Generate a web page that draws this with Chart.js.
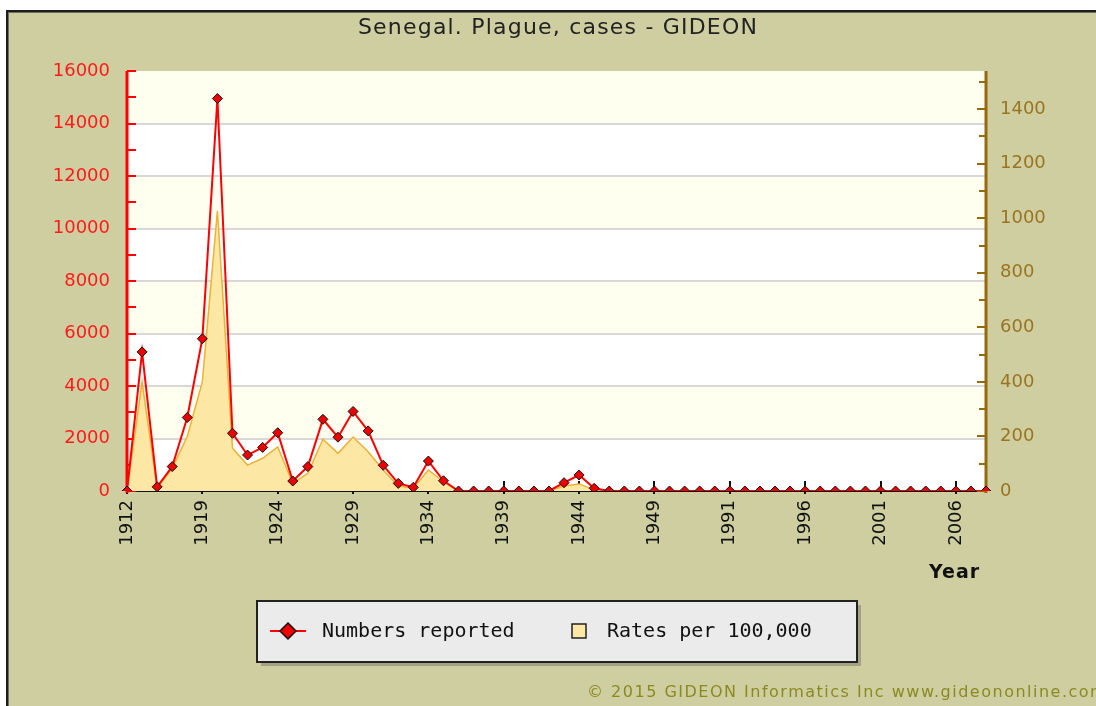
<!DOCTYPE html>
<html>
<head>
<meta charset="utf-8">
<title>Senegal. Plague, cases - GIDEON</title>
<script src="https://cdn.jsdelivr.net/npm/chart.js@4.4.1/dist/chart.umd.min.js"></script>
<style>
  html, body { margin: 0; padding: 0; background: #fff; overflow: hidden; }
  #wrap { position: relative; width: 1096px; height: 706px; }
  canvas { display: block; }
</style>
</head>
<body>
<div id="wrap"><canvas id="plagueChart" width="1096" height="706"></canvas></div>
<script>
// years shown on the x axis (only every 5th label is printed)
const years = [
  1912, 1914, 1915, 1917, 1918,
  1919, 1920, 1921, 1922, 1923, 1924, 1925, 1926, 1927, 1928,
  1929, 1930, 1931, 1932, 1933, 1934, 1935, 1936, 1937, 1938,
  1939, 1940, 1941, 1942, 1943, 1944, 1945, 1946, 1947, 1948,
  1949, 1950, 1951, 1952, 1953,
  1991, 1992, 1993, 1994, 1995, 1996, 1997, 1998, 1999, 2000,
  2001, 2002, 2003, 2004, 2005, 2006, 2007, 2008
];

// cases (left axis)
const numbersReported = [
  0, 5300, 160, 930, 2800,
  5800, 14950, 2200, 1370, 1660, 2220, 380, 930, 2730, 2050,
  3030, 2290, 980, 290, 140, 1140, 390, 0, 0, 0,
  0, 0, 0, 0, 316, 610, 103, 0, 0, 0,
  0, 0, 0, 0, 0,
  0, 0, 0, 0, 0, 0, 0, 0, 0, 0,
  0, 0, 0, 0, 0, 0, 0, 0
];

// rates per 100,000 (right axis)
const ratesPer100k = [
  0, 400, 10, 84, 200,
  400, 1027, 157, 95, 120, 162, 28, 65, 190, 138,
  198, 144, 77, 18, 10, 77, 34, 0, 0, 0,
  0, 0, 0, 0, 18, 26, 5, 0, 0, 0,
  0, 0, 0, 0, 0,
  0, 0, 0, 0, 0, 0, 0, 0, 0, 0,
  0, 0, 0, 0, 0, 0, 0, 0
];

const leftTicks = [0, 2000, 4000, 6000, 8000, 10000, 12000, 14000, 16000];
const rightTicks = [0, 200, 400, 600, 800, 1000, 1200, 1400];

const W = 1096, H = 706;
const olive = "#cfcea0";
const brown = "#946a0c";

const framePlugin = {
  id: "frame",
  beforeDraw(chart) {
    const ctx = chart.ctx;
    ctx.save();
    ctx.fillStyle = "#fff";
    ctx.fillRect(0, 0, W, H);
    ctx.fillStyle = "#1c1c1c";
    ctx.fillRect(6, 10, W, H);
    ctx.fillStyle = "#6e6e5a";
    ctx.fillRect(8, 12, W, H);
    ctx.fillStyle = olive;
    ctx.fillRect(9, 13, W, H);

    // title
    ctx.fillStyle = "#222";
    ctx.font = '22px "DejaVu Sans"';
    ctx.letterSpacing = "1.2px";
    ctx.textAlign = "center";
    ctx.textBaseline = "middle";
    ctx.fillText("Senegal. Plague, cases - GIDEON", 558, 28);
    ctx.restore();
  },
  beforeDatasetsDraw(chart) {
    const ctx = chart.ctx;
    const { left, right, top, bottom } = chart.chartArea;
    const y = chart.scales.y;
    const y1 = chart.scales.y1;
    const x = chart.scales.x;
    ctx.save();

    // alternating bands
    for (let i = 0; i < leftTicks.length - 1; i++) {
      const a = y.getPixelForValue(leftTicks[i]);
      const b = y.getPixelForValue(leftTicks[i + 1]);
      ctx.fillStyle = i % 2 ? "#fffff0" : "#ffffff";
      ctx.fillRect(left, b, right - left, a - b);
    }
    // grid lines
    ctx.strokeStyle = "#d8d8d8";
    ctx.lineWidth = 2;
    leftTicks.slice(1, -1).forEach((v) => {
      const py = Math.round(y.getPixelForValue(v));
      ctx.beginPath();
      ctx.moveTo(left, py);
      ctx.lineTo(right, py);
      ctx.stroke();
    });

    // x axis line
    ctx.strokeStyle = "#111";
    ctx.lineWidth = 2;
    ctx.beginPath();
    ctx.moveTo(left, bottom);
    ctx.lineTo(right, bottom);
    ctx.stroke();

    // x ticks at labelled years
    years.forEach((yr, i) => {
      if (i % 5 !== 0) return;
      const px = Math.round(x.getPixelForValue(i));
      ctx.beginPath();
      ctx.moveTo(px, bottom - 10);
      ctx.lineTo(px, bottom + 3);
      ctx.stroke();
    });

    // left axis
    ctx.strokeStyle = "#ff0000";
    ctx.lineWidth = 3;
    ctx.beginPath();
    ctx.moveTo(left, top);
    ctx.lineTo(left, bottom + 2);
    ctx.stroke();
    ctx.lineWidth = 2;
    for (let v = 0; v <= 16000; v += 1000) {
      const py = Math.round(y.getPixelForValue(v));
      ctx.beginPath();
      ctx.moveTo(left, py);
      ctx.lineTo(left + 9, py);
      ctx.stroke();
    }

    // right axis
    ctx.strokeStyle = brown;
    ctx.lineWidth = 3;
    ctx.beginPath();
    ctx.moveTo(right, top);
    ctx.lineTo(right, bottom + 2);
    ctx.stroke();
    ctx.lineWidth = 2;
    for (let v = 0; v <= 1500; v += 100) {
      const py = Math.round(y1.getPixelForValue(v));
      ctx.beginPath();
      ctx.moveTo(right - (v % 200 === 0 ? 9 : 7), py);
      ctx.lineTo(right, py);
      ctx.stroke();
    }
    ctx.restore();
  },
  afterDraw(chart) {
    const ctx = chart.ctx;
    ctx.save();

    // axis title
    ctx.fillStyle = "#111";
    ctx.font = 'bold 19px "DejaVu Sans"';
    ctx.letterSpacing = "1px";
    ctx.textAlign = "left";
    ctx.textBaseline = "middle";
    ctx.fillText("Year", 929, 573);
    ctx.letterSpacing = "0px";

    // legend box
    ctx.fillStyle = "#a3a283";
    ctx.fillRect(261, 605, 600, 61);
    ctx.fillStyle = "#ebebeb";
    ctx.fillRect(257, 601, 600, 61);
    ctx.strokeStyle = "#222";
    ctx.lineWidth = 2;
    ctx.strokeRect(257, 601, 600, 61);

    const ds = chart.data.datasets;
    ctx.strokeStyle = "#ff0000";
    ctx.lineWidth = 2;
    ctx.beginPath();
    ctx.moveTo(270, 631);
    ctx.lineTo(306, 631);
    ctx.stroke();
    ctx.fillStyle = "#ee0000";
    ctx.strokeStyle = "#111";
    ctx.lineWidth = 1.5;
    ctx.beginPath();
    ctx.moveTo(288, 623);
    ctx.lineTo(296, 631);
    ctx.lineTo(288, 639);
    ctx.lineTo(280, 631);
    ctx.closePath();
    ctx.fill();
    ctx.stroke();

    ctx.fillStyle = "#fce8a4";
    ctx.fillRect(572, 624, 14, 14);
    ctx.strokeStyle = "#222";
    ctx.strokeRect(572, 624, 14, 14);

    ctx.fillStyle = "#111";
    ctx.font = '20px "DejaVu Sans Mono"';
    ctx.fillText(ds[0].label, 322, 632);
    ctx.fillText(ds[1].label, 607, 632);

    // footer
    ctx.fillStyle = "#8a8a22";
    ctx.font = '16px "DejaVu Sans"';
    ctx.letterSpacing = "1.5px";
    ctx.fillText("\u00a9 2015 GIDEON Informatics Inc www.gideononline.com", 587, 693);
    ctx.restore();
  },
};

const ctx = document.getElementById("plagueChart");

const myChart = new Chart(ctx, {
  type: "line",
  data: {
    labels: years,
    datasets: [
      {
        label: "Numbers reported",
        data: numbersReported,
        yAxisID: "y",
        borderColor: "#ff0000",
        borderWidth: 2,
        pointStyle: "rectRot",
        pointRadius: 5,
        pointBackgroundColor: "#ee0000",
        pointBorderColor: "#111",
        pointBorderWidth: 1,
        tension: 0,
        fill: false,
      },
      {
        label: "Rates per 100,000",
        data: ratesPer100k,
        yAxisID: "y1",
        borderColor: "#eeb035",
        borderWidth: 1.5,
        backgroundColor: "#fce8a4",
        pointRadius: 0,
        tension: 0,
        fill: "origin",
      },
    ],
  },
  options: {
    responsive: false,
    animation: false,
    layout: { padding: { top: 71, left: 0, right: 0, bottom: 0 } },
    plugins: {
      legend: { display: false },
      tooltip: { enabled: false },
      title: { display: false },
    },
    scales: {
      x: {
        type: "category",
        afterFit(scale) {
          scale.height = 215;
        },
        grid: { display: false, drawTicks: false },
        border: { display: false },
        ticks: {
          autoSkip: false,
          minRotation: 90,
          maxRotation: 90,
          padding: 9,
          color: "#111",
          font: { family: "DejaVu Sans", size: 18 },
          callback: function (val, i) {
            return i % 5 === 0 ? String(years[i]) : "";
          },
        },
      },
      y: {
        position: "left",
        min: 0,
        max: 16000,
        afterFit(scale) {
          scale.width = 127;
        },
        afterBuildTicks(scale) {
          scale.ticks = leftTicks.map((v) => ({ value: v }));
        },
        grid: { display: false, drawTicks: false },
        border: { display: false },
        ticks: {
          padding: 17,
          color: "#ff1a1a",
          font: { family: "DejaVu Sans", size: 18 },
          callback: (v) => String(v),
        },
      },
      y1: {
        position: "right",
        min: 0,
        max: 1540,
        afterFit(scale) {
          scale.width = 110;
        },
        afterBuildTicks(scale) {
          scale.ticks = rightTicks.map((v) => ({ value: v }));
        },
        grid: { display: false, drawTicks: false },
        border: { display: false },
        ticks: {
          padding: 14,
          color: "#9a7420",
          font: { family: "DejaVu Sans", size: 18 },
          callback: (v) => String(v),
        },
      },
    },
  },
  plugins: [framePlugin],
});
</script>
</body>
</html>
